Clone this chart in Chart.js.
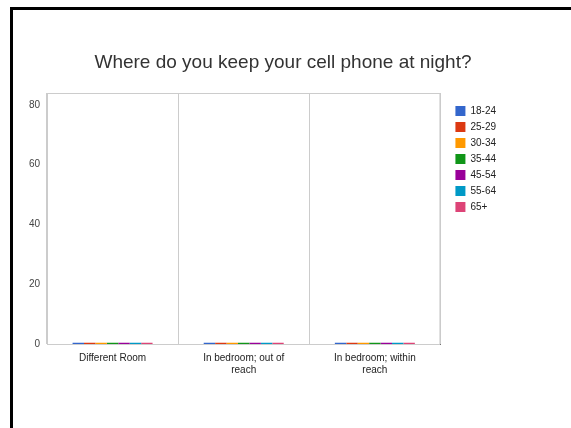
<!DOCTYPE html>
<html>
<head>
<meta charset="utf-8">
<script src="https://cdn.jsdelivr.net/npm/chart.js@4"></script>
<style>
    html, body { margin: 0; padding: 0; background: #fff; }
    #wrap { position: relative; width: 571px; height: 428px; }
    #frame {
        position: absolute; left: 10px; top: 7px; right: 0; bottom: 0;
        border-top: 3px solid #000; border-left: 3px solid #000;
        pointer-events: none;
    }
    #chartTitle {
        position: absolute; left: 0; width: 566px; top: 51px;
        text-align: center; font: 19px/22px 'Liberation Sans', Arial, sans-serif;
        color: #333;
    }
    canvas { position: absolute; left: 0; top: 0; }
</style>
</head>
<body>
<div id="wrap">
    <canvas id="phoneChart" width="571" height="428"></canvas>
    <div id="chartTitle">Where do you keep your cell phone at night?</div>
    <div id="frame"></div>
</div>
<script>
// categories and series
const categories = [
    'Different Room',
    ['In bedroom; out of', 'reach'],
    ['In bedroom; within', 'reach']
];
const ageGroups = ['18-24', '25-29', '30-34', '35-44', '45-54', '55-64', '65+'];
const groupColors = ['#3366cc', '#dc3912', '#ff9900', '#109618', '#990099', '#0099c6', '#dd4477'];

// values look like zero, only a 1px strip shows at the axis
const v18_24 = [0.4, 0.4, 0.4];
const v25_29 = [0.4, 0.4, 0.4];
const v30_34 = [0.4, 0.4, 0.4];
const v35_44 = [0.4, 0.4, 0.4];
const v45_54 = [0.4, 0.4, 0.4];
const v55_64 = [0.4, 0.4, 0.4];
const v65plus = [0.4, 0.4, 0.4];
const yTicks = [0, 20, 40, 60, 80];
const yMax = 84;

const seriesValues = [v18_24, v25_29, v30_34, v35_44, v45_54, v55_64, v65plus];

// light box round the plot area
const plotBox = {
    id: 'plotBox',
    beforeDatasetsDraw(chart) {
        const a = chart.chartArea;
        const ctx = chart.ctx;
        ctx.save();
        ctx.strokeStyle = '#cccccc';
        ctx.lineWidth = 1;
        ctx.strokeRect(a.left + 0.5, a.top + 0.5, a.right - a.left - 1, a.bottom - a.top);
        ctx.restore();
    }
};

const ctx = document.getElementById('phoneChart').getContext('2d');
const phoneChart = new Chart(ctx, {
    type: 'bar',
    data: {
        labels: categories,
        datasets: ageGroups.map(function(g, i) {
            return {
                label: g,
                data: seriesValues[i],
                backgroundColor: groupColors[i],
                borderWidth: 0,
                categoryPercentage: 0.61,
                barPercentage: 1
            };
        })
    },
    options: {
        responsive: false,
        animation: false,
        layout: { padding: { left: 8, right: 65, top: 93, bottom: 44 } },
        plugins: {
            legend: {
                position: 'right',
                align: 'start',
                title: {
                    display: true,
                    text: ' ',
                    font: { size: 5 },
                    padding: { top: 1, bottom: 0 }
                },
                labels: {
                    boxWidth: 10,
                    boxHeight: 10,
                    padding: 6,
                    color: '#222',
                    font: { family: 'Liberation Sans', size: 10 }
                }
            },
            tooltip: { enabled: false }
        },
        scales: {
            x: {
                grid: { display: true, offset: true, color: '#cccccc', drawTicks: false },
                border: { display: true, color: '#333', width: 1 },
                ticks: {
                    color: '#222',
                    padding: 8,
                    maxRotation: 0,
                    font: { family: 'Liberation Sans', size: 10 }
                }
            },
            y: {
                min: 0,
                max: yMax,
                afterBuildTicks: function(axis) {
                    axis.ticks = yTicks.map(function(t) { return { value: t }; });
                },
                afterFit: function(axis) { axis.width = 39; },
                grid: { display: false, drawTicks: false },
                border: { display: true, color: '#cccccc' },
                ticks: {
                    color: '#444',
                    padding: 7,
                    font: { family: 'Liberation Sans', size: 10 }
                }
            },
            // empty spacer between plot and legend
            gap: {
                type: 'linear',
                position: 'right',
                min: 0,
                max: 1,
                grid: { display: false },
                border: { display: false },
                ticks: { display: false },
                afterFit: function(axis) { axis.width = 9; }
            }
        }
    },
    plugins: [plotBox]
});
</script>
</body>
</html>
